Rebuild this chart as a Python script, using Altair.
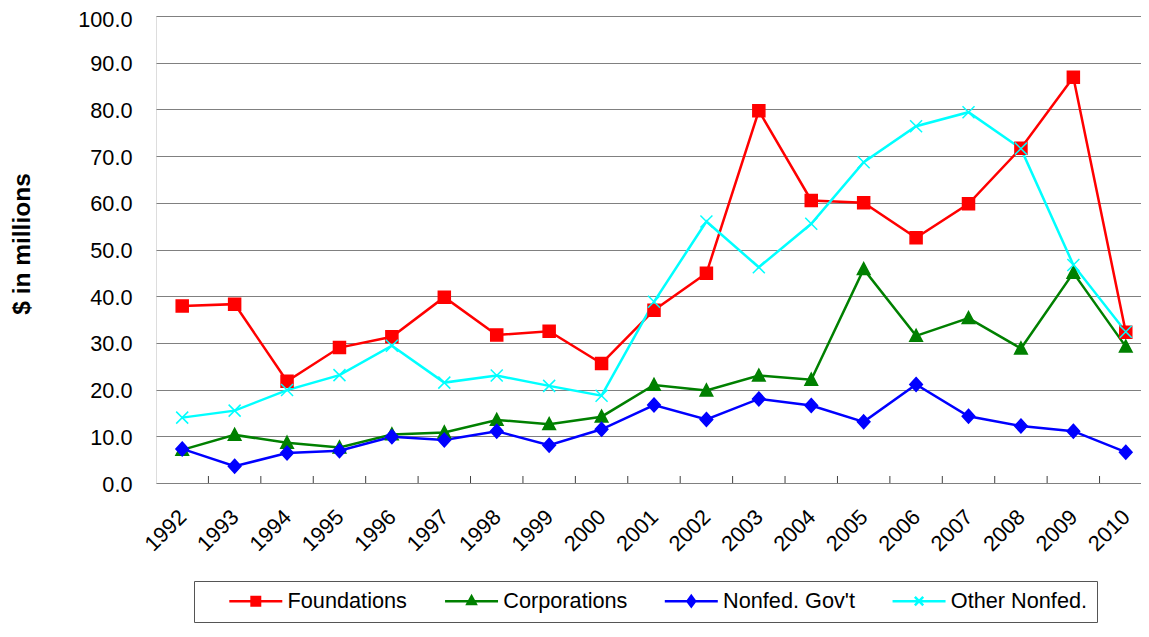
import altair as alt
import pandas as pd

years = list(range(1992, 2011))
series_names = ["Foundations", "Corporations", "Nonfed. Gov't", "Other Nonfed."]
series_colors = ["#FF0000", "#008000", "#0000FF", "#00FFFF"]

foundations = [37.9, 38.3, 21.8, 29.0, 31.3, 39.8, 31.7, 32.5, 25.6, 37.0,
               44.9, 79.7, 60.5, 60.0, 52.5, 59.8, 71.7, 86.9, 32.3]
corporations = [7.1, 10.3, 8.6, 7.6, 10.4, 10.8, 13.5, 12.6, 14.2, 21.0,
                19.8, 23.0, 22.1, 45.8, 31.5, 35.3, 28.8, 45.0, 29.2]
nonfed_gov = [7.3, 3.6, 6.4, 6.9, 9.9, 9.2, 11.1, 8.1, 11.5, 16.7,
              13.6, 18.0, 16.6, 13.1, 21.1, 14.3, 12.2, 11.1, 6.6]
other_nonfed = [14.0, 15.5, 19.9, 23.1, 29.4, 21.5, 23.0, 20.8, 18.7, 38.8,
                56.0, 46.2, 55.5, 68.7, 76.4, 79.4, 71.6, 46.7, 32.4]

y_ticks = [0, 10, 20, 30, 40, 50, 60, 70, 80, 90, 100]
y_title = "$ in millions"

all_values = [foundations, corporations, nonfed_gov, other_nonfed]
rows = []
for name, vals in zip(series_names, all_values):
    for yr, v in zip(years, vals):
        rows.append({"year": yr, "series": name, "value": v})
df = pd.DataFrame(rows)
bounds_df = pd.DataFrame({"b": [y + 0.5 for y in years[:-1]]})

FONT = "Liberation Sans"
PLOT_W = 985
PLOT_H = 467
STEP = 52.42  # px per year

# marker shapes in the plot
marker_paths = [
    "M-1,-1L1,-1L1,1L-1,1Z",
    "M0,-1.1L1.05,0.9L-1.05,0.9Z",
    "M0,-1.15L1.05,0L0,1.15L-1.05,0Z",
    "M-1,-1L1,1M-1,1L1,-1",
]
# legend symbols: line + marker (unit = 26.5px)
legend_paths = [
    "M-1,0L1,0M-0.16,-0.16L0.16,-0.16L0.16,0.16L-0.16,0.16Z",
    "M-1,0L1,0M0,-0.185L0.158,0.106L-0.158,0.106Z",
    "M-1,0L1,0M0,-0.198L0.145,0L0,0.198L-0.145,0Z",
    "M-1,0L1,0M-0.158,-0.158L0.158,0.158M-0.158,0.158L0.158,-0.158",
]

legend = alt.Legend(
    title="\u00a0", titleOrient="left", titleFontSize=20, titlePadding=24.8,
    orient="none", legendX=38, legendY=565, direction="horizontal",
    labelFont=FONT, labelFontSize=21.7, labelColor="black", labelLimit=400,
    symbolSize=2809, symbolStrokeWidth=2.5, symbolOpacity=1, clipHeight=22,
    labelOffset=3.75, columnPadding=35.75,
    padding=9, strokeColor="#555555", fillColor="white",
    labelExpr="datum.label == 'Other Nonfed.' ? datum.label + '\u00a0\u00a0' : datum.label",
)

x_scale = alt.Scale(domain=[years[0] - 0.5, years[0] - 0.5 + PLOT_W / STEP], nice=False, zero=False)
y_scale = alt.Scale(domain=[y_ticks[0], y_ticks[-1]], nice=False)

x_axis = alt.Axis(values=years, format="d", labelAngle=-45, labelAlign="right",
                  labelBaseline="middle", labelPadding=30, ticks=False, domain=False,
                  grid=False, title=None, labelFontSize=21.7, labelOverlap=False,
                  labelFlush=False, labelFont=FONT, labelColor="black")
y_axis = alt.Axis(values=y_ticks, format=".1f", ticks=False, domain=False,
                  grid=True, gridColor="#808080", gridWidth=1, labelPadding=24,
                  labelOffset=alt.condition("datum.value == 100", alt.value(3), alt.value(1)),
                  labelFontSize=21.7, labelFont=FONT, labelColor="black",
                  title=y_title, titleFont=FONT, titleFontSize=24.5, titleFontWeight="bold",
                  titleColor="black", titleX=-133.5, titleY=227.5, titleAngle=270,
                  titleAlign="center", titleBaseline="middle", labelOverlap=False)

X = alt.X("year:Q", scale=x_scale, axis=x_axis)
Y = alt.Y("value:Q", scale=y_scale, axis=y_axis)


def cscale():
    return alt.Scale(domain=series_names, range=series_colors)


base = alt.Chart(df)

lines = base.mark_line(strokeWidth=2.5).encode(
    x=X, y=Y,
    color=alt.Color("series:N", scale=cscale(), legend=None, sort=series_names),
)

points = base.mark_point(filled=True, size=144, strokeWidth=1.5, opacity=1).encode(
    x=X, y=Y,
    fill=alt.Fill("series:N", scale=cscale(), legend=None),
    stroke=alt.Stroke("series:N", scale=cscale(), legend=None),
    shape=alt.Shape("series:N", scale=alt.Scale(domain=series_names, range=marker_paths), legend=None),
)

legend_layer = base.mark_point(filled=True, size=196, opacity=0).encode(
    x=X, y=Y,
    fill=alt.Fill("series:N", scale=cscale(), legend=legend),
    stroke=alt.Stroke("series:N", scale=cscale(), legend=legend),
    shape=alt.Shape("series:N", scale=alt.Scale(domain=series_names, range=legend_paths), legend=legend),
)

ticks = alt.Chart(bounds_df).mark_rule(color="#404040", strokeWidth=1).encode(
    x=alt.X("b:Q", scale=x_scale, axis=x_axis),
    y=alt.value(PLOT_H),
    y2=alt.value(PLOT_H - 7),
)

chart = alt.layer(ticks, lines, points, legend_layer).resolve_scale(
    color="independent", fill="independent", stroke="independent", shape="independent"
).properties(
    width=PLOT_W, height=PLOT_H,
    autosize=alt.AutoSizeParams(type="none"),
    padding={"left": 148, "top": 8, "right": 0, "bottom": 141},
).configure_view(stroke="black", strokeWidth=2).configure(background="white")

chart.save("out.html", embed_options={"renderer": "svg", "actions": False})
